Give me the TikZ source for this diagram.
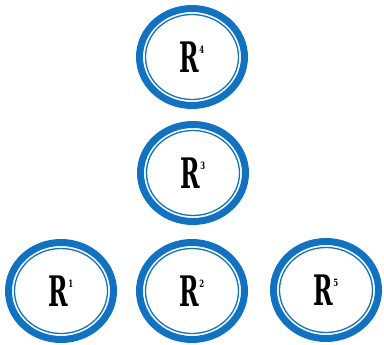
\documentclass[tikz,border=0pt]{standalone}
\usepackage{fontspec}
\setmainfont{DejaVu Serif}
\usepackage{graphicx}
\usetikzlibrary{shapes.geometric}
\definecolor{ringblue}{RGB}{16,114,192}
% condensed heavy R with a small raised index
\newcommand{\rlabel}[1]{%
  \scalebox{0.56}[1]{\fontsize{42}{42}\selectfont\bfseries R}%
  \raisebox{19pt}{\scalebox{0.7}[1]{\fontsize{10}{10}\selectfont\bfseries #1}}}
\tikzset{
  ring/.style={ellipse, draw=ringblue, line width=7pt, fill=white,
    minimum width=105pt, minimum height=97pt, inner sep=0pt},
  innerring/.style={draw=ringblue, line width=1.3pt}
}
\begin{document}
\begin{tikzpicture}[x=1pt,y=-1pt]
  \useasboundingbox (0,0) rectangle (384,345);
  \node[ring] (r4) at (192,57) {\rlabel{4}};
  \node[ring] (r3) at (193,173) {\rlabel{3}};
  \node[ring] (r1) at (61,291) {\rlabel{1}};
  \node[ring] (r2) at (192,291) {\rlabel{2}};
  \node[ring] (r5) at (326,290) {\rlabel{5}};
  \foreach \n in {r1,r2,r3,r4,r5}
    \draw[innerring] (\n.center) ellipse [x radius=46.5, y radius=42.5];
\end{tikzpicture}
\end{document}
